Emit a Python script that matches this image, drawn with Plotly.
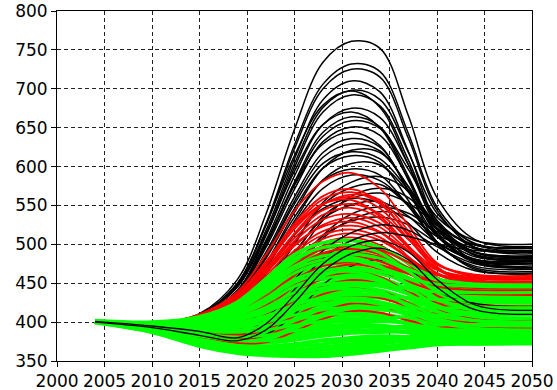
import plotly.graph_objects as go

YEARS = [2004, 2010, 2015, 2019, 2022, 2025, 2028, 2031, 2034, 2037, 2040, 2044, 2050]

X_TICKS = [2000, 2005, 2010, 2015, 2020, 2025, 2030, 2035, 2040, 2045, 2050]
Y_TICKS = [350, 400, 450, 500, 550, 600, 650, 700, 750, 800]

BLACK_MAIN = [
    [401, 397, 411, 455, 539, 648, 734, 761, 752, 665, 560, 506, 497],
    [400, 398, 410, 450, 527, 628, 706, 732, 722, 642, 548, 500, 492],
    [400, 396, 410, 449, 525, 623, 700, 725, 715, 636, 544, 496, 488],
    [400, 397, 409, 447, 518, 610, 686, 710, 696, 619, 530, 490, 483],
    [400, 397, 409, 445, 514, 604, 676, 698, 686, 618, 540, 501, 495],
    [401, 398, 409, 450, 525, 614, 679, 697, 676, 602, 525, 489, 485],
    [400, 396, 405, 440, 511, 599, 670, 692, 678, 608, 527, 486, 480],
    [400, 397, 408, 441, 505, 588, 654, 675, 663, 602, 531, 496, 490],
    [401, 398, 409, 446, 513, 594, 654, 670, 650, 582, 512, 479, 475],
    [400, 396, 406, 440, 501, 580, 644, 664, 651, 587, 513, 476, 470],
    [400, 397, 407, 439, 499, 577, 639, 659, 649, 596, 535, 505, 500],
    [400, 398, 407, 438, 496, 571, 632, 651, 640, 584, 519, 487, 482],
    [401, 397, 408, 441, 502, 576, 629, 644, 627, 569, 510, 481, 478],
    [400, 396, 405, 436, 490, 561, 618, 636, 625, 568, 503, 470, 465],
    [400, 397, 406, 435, 487, 556, 612, 629, 620, 574, 521, 494, 490],
    [400, 396, 404, 430, 476, 541, 598, 621, 618, 574, 515, 478, 472],
    [400, 398, 405, 432, 485, 552, 604, 619, 610, 570, 525, 499, 497],
    [400, 397, 405, 432, 482, 546, 598, 614, 605, 556, 500, 472, 468],
    [400, 398, 404, 428, 470, 530, 583, 604, 602, 567, 519, 490, 485],
    [400, 396, 404, 430, 475, 535, 582, 597, 589, 549, 503, 480, 476],
    [400, 397, 404, 428, 470, 527, 572, 589, 582, 551, 513, 495, 492],
    [400, 397, 402, 419, 449, 500, 554, 580, 587, 569, 525, 486, 480],
    [400, 396, 403, 421, 453, 503, 551, 573, 577, 549, 503, 468, 462],
    [400, 395, 398, 414, 438, 481, 531, 562, 572, 560, 521, 478, 470],
    [400, 397, 402, 417, 443, 488, 536, 559, 566, 553, 525, 499, 495],
    [400, 397, 404, 425, 462, 512, 546, 559, 553, 527, 490, 466, 463],
    [400, 396, 401, 419, 447, 490, 533, 551, 555, 536, 503, 479, 475],
    [400, 395, 397, 412, 433, 470, 512, 539, 548, 540, 516, 490, 485],
    [400, 396, 398, 408, 428, 466, 508, 532, 542, 535, 510, 484, 480],
    [400, 396, 399, 413, 435, 472, 511, 530, 535, 525, 502, 481, 478],
]

BLACK_LOW_UNDER = [
    [400, 394, 388, 390, 420, 455, 492, 515, 525, 518, 497, 475, 470],
    [400, 393, 385, 382, 405, 442, 482, 505, 515, 510, 500, 492, 490],
    [400, 394, 386, 378, 384, 410, 448, 472, 480, 468, 440, 424, 420],
]

BLACK_LOW_OVER = [
    [401, 395, 388, 380, 398, 435, 475, 498, 505, 490, 455, 422, 415],
    [400, 393, 383, 376, 390, 425, 465, 488, 495, 480, 445, 416, 410],
]

RED_MAIN = [
    [401, 398, 410, 439, 487, 543, 581, 592, 572, 524, 476, 458, 455],
    [400, 398, 409, 434, 477, 527, 562, 571, 554, 511, 468, 452, 450],
    [400, 397, 408, 434, 476, 524, 558, 567, 552, 513, 474, 460, 458],
    [400, 397, 405, 425, 466, 514, 551, 564, 557, 517, 471, 449, 445],
    [400, 398, 409, 432, 473, 520, 552, 561, 546, 507, 469, 454, 452],
    [400, 397, 410, 436, 478, 523, 552, 557, 536, 498, 462, 449, 448],
    [400, 398, 407, 430, 469, 513, 544, 552, 539, 506, 474, 461, 460],
    [400, 397, 406, 428, 466, 508, 538, 547, 533, 495, 458, 444, 442],
    [400, 398, 407, 428, 463, 504, 532, 539, 527, 497, 468, 456, 455],
    [400, 397, 405, 425, 459, 498, 525, 534, 522, 492, 463, 451, 450],
    [400, 398, 408, 431, 464, 500, 523, 529, 516, 484, 454, 441, 440],
    [400, 397, 406, 425, 455, 492, 517, 524, 515, 491, 467, 458, 457],
    [400, 398, 405, 423, 453, 489, 512, 519, 509, 482, 456, 447, 446],
    [400, 397, 404, 421, 450, 484, 507, 514, 505, 483, 461, 453, 452],
    [400, 396, 403, 418, 446, 480, 502, 509, 499, 474, 448, 439, 438],
    [400, 397, 404, 420, 446, 478, 498, 504, 496, 476, 456, 449, 448],
]

RED_LOW = [
    [400, 398, 403, 417, 443, 474, 494, 499, 493, 477, 461, 456, 455],
    [400, 397, 402, 415, 440, 470, 489, 494, 487, 469, 450, 444, 443],
    [400, 396, 401, 413, 437, 466, 484, 489, 484, 470, 455, 451, 450],
    [400, 397, 400, 411, 433, 461, 479, 484, 478, 462, 446, 441, 440],
    [400, 396, 399, 408, 428, 455, 472, 477, 473, 462, 451, 448, 447],
    [400, 395, 397, 405, 422, 448, 464, 469, 465, 452, 440, 436, 435],
    [400, 395, 396, 405, 428, 460, 486, 499, 492, 465, 434, 420, 418],
    [400, 394, 392, 398, 418, 446, 466, 474, 468, 448, 425, 412, 410],
    [400, 393, 388, 392, 410, 436, 456, 464, 458, 438, 416, 404, 402],
    [400, 394, 390, 392, 405, 428, 446, 454, 450, 438, 426, 421, 420],
    [400, 392, 385, 385, 396, 418, 436, 444, 440, 425, 408, 399, 398],
    [400, 393, 386, 383, 390, 408, 425, 434, 431, 420, 410, 406, 405],
    [400, 392, 384, 378, 383, 398, 414, 424, 421, 410, 400, 396, 395],
    [400, 391, 381, 373, 374, 388, 404, 414, 412, 402, 395, 393, 392],
]

GREEN_A = [
    [402, 400, 407, 426, 456, 487, 502, 505, 496, 476, 456, 448, 446],
    [401, 399, 405, 422, 451, 480, 494, 497, 489, 469, 450, 442, 440],
    [400, 399, 404, 420, 447, 475, 488, 491, 483, 465, 447, 440, 438],
    [401, 398, 403, 418, 443, 470, 483, 486, 480, 465, 450, 444, 443],
    [400, 398, 402, 416, 440, 466, 478, 481, 474, 457, 440, 434, 432],
    [401, 397, 401, 414, 436, 461, 473, 476, 470, 455, 442, 437, 436],
    [400, 398, 402, 413, 433, 457, 468, 471, 465, 449, 435, 429, 428],
    [400, 397, 400, 411, 430, 453, 464, 467, 462, 452, 444, 441, 440],
    [401, 398, 401, 410, 427, 448, 459, 462, 457, 443, 431, 426, 425],
    [400, 397, 399, 408, 424, 444, 455, 457, 453, 443, 435, 433, 432],
    [400, 396, 397, 405, 420, 440, 450, 453, 448, 436, 425, 421, 420],
    [401, 397, 398, 405, 418, 436, 446, 449, 446, 438, 432, 430, 430],
    [400, 396, 396, 402, 414, 431, 442, 445, 441, 430, 419, 416, 415],
    [400, 397, 397, 402, 413, 428, 438, 441, 438, 431, 427, 425, 425],
    [400, 395, 394, 398, 409, 424, 434, 437, 433, 423, 414, 411, 410],
    [401, 396, 395, 399, 408, 421, 430, 433, 431, 425, 421, 420, 420],
    [400, 395, 393, 396, 405, 417, 426, 429, 426, 417, 409, 406, 405],
    [400, 396, 394, 396, 403, 414, 422, 425, 423, 419, 416, 415, 415],
    [400, 394, 391, 392, 399, 410, 418, 421, 418, 410, 403, 401, 400],
    [401, 395, 392, 393, 399, 408, 414, 417, 416, 413, 411, 410, 410],
    [400, 394, 390, 390, 396, 405, 411, 413, 411, 404, 398, 396, 395],
    [400, 395, 391, 390, 394, 402, 407, 409, 408, 406, 405, 405, 405],
    [400, 393, 388, 387, 391, 398, 403, 405, 403, 398, 394, 392, 392],
    [401, 394, 389, 386, 389, 395, 399, 401, 401, 400, 400, 400, 400],
    [400, 393, 386, 383, 386, 391, 395, 397, 396, 392, 389, 388, 388],
    [400, 393, 385, 380, 381, 386, 391, 393, 394, 394, 395, 395, 395],
    [400, 392, 383, 377, 377, 382, 387, 389, 389, 387, 385, 385, 385],
    [401, 392, 381, 374, 373, 377, 382, 386, 387, 388, 389, 390, 390],
    [400, 391, 379, 371, 369, 372, 377, 380, 382, 381, 380, 380, 380],
    [400, 390, 377, 368, 366, 368, 372, 376, 379, 381, 382, 383, 383],
    [400, 389, 375, 366, 363, 364, 368, 372, 375, 377, 378, 378, 378],
    [400, 388, 373, 364, 361, 361, 364, 368, 372, 376, 378, 379, 380],
    [400, 388, 372, 363, 359, 358, 360, 364, 368, 372, 374, 375, 375],
    [399, 387, 370, 361, 358, 357, 358, 361, 366, 370, 372, 373, 373],
    [400, 387, 369, 360, 357, 356, 356, 359, 363, 367, 371, 372, 373],
]

GREEN_B = [
    [401, 399, 405, 423, 452, 482, 496, 499, 489, 465, 440, 428, 425],
    [400, 398, 404, 419, 445, 472, 485, 488, 482, 468, 455, 449, 448],
    [400, 398, 402, 415, 438, 463, 476, 479, 470, 449, 428, 420, 418],
    [401, 397, 400, 412, 431, 455, 466, 469, 465, 456, 449, 446, 445],
    [400, 397, 399, 409, 425, 446, 456, 459, 452, 436, 419, 412, 410],
    [400, 396, 398, 406, 419, 438, 448, 451, 449, 443, 439, 438, 438],
    [401, 396, 396, 402, 413, 429, 440, 443, 437, 423, 408, 402, 400],
    [400, 396, 395, 399, 408, 422, 432, 435, 434, 431, 429, 428, 428],
    [400, 395, 393, 395, 404, 415, 424, 427, 423, 412, 400, 396, 395],
    [400, 395, 392, 393, 400, 409, 416, 419, 419, 418, 418, 418, 418],
    [400, 394, 390, 390, 395, 403, 409, 411, 407, 398, 390, 386, 385],
    [401, 394, 389, 387, 390, 396, 401, 403, 405, 407, 409, 410, 410],
    [400, 393, 385, 381, 383, 389, 393, 395, 392, 386, 381, 379, 378],
    [400, 391, 382, 376, 376, 380, 385, 387, 390, 393, 396, 397, 398],
    [400, 390, 378, 370, 368, 371, 376, 379, 378, 375, 373, 372, 372],
    [400, 389, 374, 365, 362, 361, 364, 368, 373, 379, 384, 387, 388],
    [400, 398, 403, 417, 441, 468, 480, 483, 472, 446, 420, 407, 405],
    [400, 397, 400, 411, 429, 451, 462, 465, 456, 436, 414, 402, 400],
    [400, 396, 397, 404, 416, 433, 444, 447, 440, 420, 400, 392, 390],
    [400, 395, 394, 397, 406, 418, 428, 431, 425, 408, 392, 384, 382],
]

fig = go.Figure()


def add_group(rows, color, width):
    for row in rows:
        fig.add_trace(go.Scatter(
            x=YEARS, y=row, mode="lines",
            line=dict(color=color, width=width, shape="spline", smoothing=1.0),
            showlegend=False, hoverinfo="skip",
        ))


add_group(BLACK_MAIN, "#000000", 1.5)
add_group(RED_MAIN, "#ff0000", 1.8)
add_group(GREEN_A, "#00ff00", 3.5)
add_group(BLACK_LOW_UNDER, "#000000", 1.5)
add_group(RED_LOW, "#ff0000", 2)
add_group(GREEN_B, "#00ff00", 3)
add_group(BLACK_LOW_OVER, "#000000", 1.3)

axis_common = dict(
    automargin=False,
    showline=True, linecolor="#000000", linewidth=1, mirror=True,
    ticks="outside", ticklen=5, tickcolor="#000000",
    showgrid=True, gridcolor="#222222", gridwidth=1, griddash="4px,3px",
    zeroline=False,
    tickfont=dict(family="DejaVu Sans", size=17, color="#000000"),
)

fig.update_xaxes(range=[2000, 2050], tickvals=X_TICKS, **axis_common)
fig.update_yaxes(range=[350, 800], tickvals=Y_TICKS, **axis_common)

fig.update_layout(
    width=557, height=390,
    margin=dict(l=57, r=25, t=11, b=29, autoexpand=False),
    paper_bgcolor="#ffffff", plot_bgcolor="#ffffff",
)

fig.write_html(
    "out.html",
    config={"displayModeBar": False, "staticPlot": True},
    post_script="document.body.style.margin='0';",
)
